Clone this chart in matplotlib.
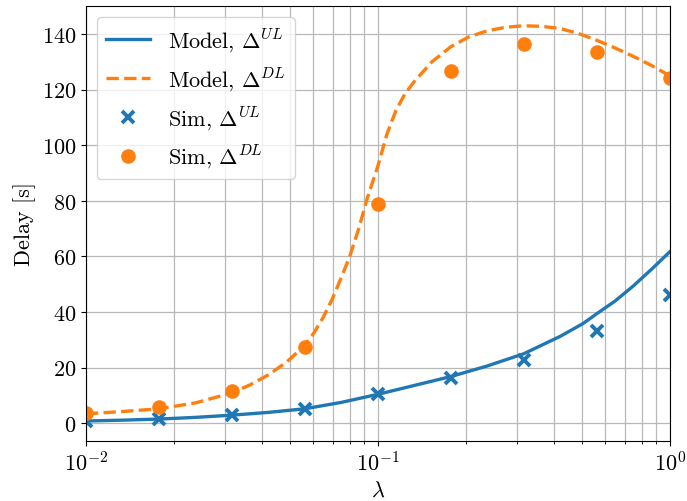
import numpy as np
import matplotlib
matplotlib.use("Agg")
import matplotlib.pyplot as plt

plt.rcParams['font.family'] = 'serif'
plt.rcParams['font.serif'] = ['cmr10', 'DejaVu Serif']
plt.rcParams['mathtext.fontset'] = 'cm'
plt.rcParams['axes.formatter.use_mathtext'] = True
plt.rcParams['font.size'] = 16

# arrival rate points used by the simulation
lam_sim = [0.01, 0.0178, 0.0316, 0.0562, 0.1, 0.178, 0.316, 0.562, 1.0]
sim_ul = [0.8, 1.5, 2.8, 5.1, 10.4, 16.4, 22.7, 33.1, 46.0]
sim_dl = [3.6, 5.7, 11.5, 27.5, 79.0, 126.7, 136.4, 133.4, 124.2]

# analytical model, uplink
lam_ul = [0.01, 0.0133, 0.0178, 0.0237, 0.0316, 0.0422, 0.0562, 0.075, 0.1,
          0.1334, 0.178, 0.237, 0.316, 0.422, 0.505, 0.562, 0.65, 0.75, 0.87, 1.0]
model_ul = [0.8, 1.1, 1.5, 2.1, 2.9, 3.9, 5.2, 7.5, 10.4,
            13.6, 16.8, 20.6, 25.0, 31.3, 35.9, 39.4, 44.0, 49.4, 55.6, 61.7]

# analytical model, downlink
lam_dl = [0.01, 0.0133, 0.0178, 0.0237, 0.0316, 0.0365, 0.0422, 0.0487, 0.0562,
          0.0604, 0.0649, 0.0697, 0.075, 0.0801, 0.086, 0.0917, 0.1, 0.1074,
          0.1153, 0.1238, 0.1334, 0.153, 0.178, 0.205, 0.237, 0.275, 0.316,
          0.365, 0.422, 0.487, 0.562, 0.65, 0.75, 0.87, 1.0]
model_dl = [3.4, 4.2, 5.2, 7.3, 10.9, 13.8, 17.4, 22.0, 28.0,
            32.5, 38.0, 44.5, 52.5, 60.0, 70.0, 80.5, 92.5, 104.0,
            112.5, 118.5, 123.0, 130.0, 135.5, 139.0, 141.2, 142.5, 143.0,
            142.8, 142.0, 140.2, 137.8, 135.0, 132.0, 128.6, 125.0]

fig, ax = plt.subplots(figsize=(6.87, 5.02), dpi=100)
fig.subplots_adjust(left=0.125, right=0.975, top=0.986, bottom=0.12)

ax.plot(lam_ul, model_ul, color='tab:blue', lw=2.4, label=r'Model, $\Delta^{UL}$')
ax.plot(lam_dl, model_dl, color='tab:orange', lw=2.4, ls='--', label=r'Model, $\Delta^{DL}$')
ax.plot(lam_sim, sim_ul, 'x', color='tab:blue', ms=8, mew=2.8, label=r'Sim, $\Delta^{UL}$')
ax.plot(lam_sim, sim_dl, 'o', color='tab:orange', ms=9.5, label=r'Sim, $\Delta^{DL}$')

ax.set_xscale('log')
ax.set_xlim(0.01, 1)
ax.grid(True, which='both', color='#b8b8b8', lw=0.9)
ax.set_axisbelow(True)

ax.set_xlabel(r'$\lambda$')
ax.set_ylabel('Delay [s]')
ax.legend(loc='upper left')

fig.savefig('out.png')
